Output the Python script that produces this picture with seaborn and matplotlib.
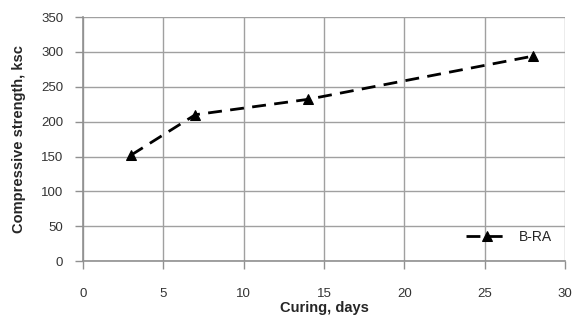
import pandas as pd
import matplotlib
matplotlib.use("Agg")
import matplotlib.pyplot as plt
import seaborn as sns

# data
days = [3, 7, 14, 28]
strength = [152, 210, 232, 294]

df = pd.DataFrame({'Curing': days, 'Strength': strength})

sns.set_style('white', {'xtick.bottom': True, 'ytick.left': True,
                        'xtick.direction': 'out', 'ytick.direction': 'out'})
plt.rcParams['font.family'] = ['Liberation Sans', 'DejaVu Sans']

fig = plt.figure(figsize=(5.79, 3.22), dpi=100)
ax = fig.add_axes([0.143, 0.189, 0.833, 0.758])

sns.lineplot(data=df, x='Curing', y='Strength', ax=ax, color='black',
             linestyle=(0, (5, 3)), linewidth=2, marker='^', markersize=7.5,
             markeredgecolor='black', label='B-RA')

ax.set_xlim(0, 30)
ax.set_ylim(0, 350)
ax.set_xticks(range(0, 31, 5))
ax.set_yticks(range(0, 351, 50))
ax.grid(True, color='#a0a0a0', linewidth=1)
for s in ['top', 'right']:
    ax.spines[s].set_visible(False)
for s in ['left', 'bottom']:
    ax.spines[s].set_color('#909090')
    ax.spines[s].set_linewidth(1.2)
ax.tick_params(axis='both', direction='out', length=6, color='#909090',
               labelsize=9.5, width=1, bottom=True, left=True,
               labelcolor='#333333')
ax.tick_params(axis='y', pad=8)
ax.tick_params(axis='x', pad=13)
ax.set_xlabel('Curing, days', fontsize=10.5, fontweight='bold', labelpad=1)
ax.set_ylabel('Compressive strength, ksc', fontsize=10.5, fontweight='bold', labelpad=11)

ax.legend(loc='center right', frameon=False, fontsize=10, handlelength=3,
          handletextpad=0.8, borderaxespad=0, bbox_to_anchor=(0.985, 0.098))

fig.savefig('out.png', dpi=100)
